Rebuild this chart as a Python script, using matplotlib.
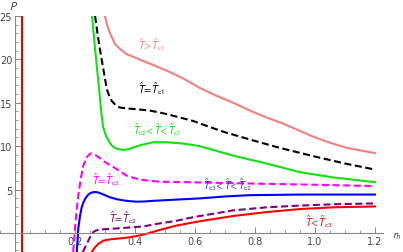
import matplotlib
matplotlib.use("Agg")
import matplotlib.pyplot as plt
from matplotlib.ticker import MultipleLocator

plt.rcParams["mathtext.fontset"] = "stixsans"

# values, r_h and P
r_salmon = [0.300, 0.306, 0.317, 0.333, 0.350, 0.372, 0.394, 0.450, 0.506, 0.561,
            0.617, 0.672, 0.728, 0.783, 0.839, 0.894, 0.994, 1.050, 1.106, 1.200]
p_salmon = [25.0, 24.1, 23.0, 21.8, 21.2, 20.6, 20.3, 19.5, 18.7, 17.8,
            16.7, 15.8, 15.0, 14.1, 13.3, 12.6, 11.1, 10.4, 9.8, 9.2]

r_black = [0.267, 0.275, 0.283, 0.292, 0.300, 0.306, 0.312, 0.317, 0.322, 0.328,
           0.334, 0.340, 0.350, 0.370, 0.390, 0.450, 0.506, 0.550, 0.594, 0.650,
           0.700, 0.800, 0.883, 1.000, 1.100, 1.200]
p_black = [25.0, 23.0, 21.2, 19.4, 17.8, 16.6, 16.0, 15.6, 15.25, 15.0,
           14.8, 14.6, 14.45, 14.35, 14.3, 14.1, 13.7, 13.3, 12.9, 12.2,
           11.6, 10.6, 9.8, 8.8, 8.0, 7.3]

r_green = [0.257, 0.267, 0.278, 0.289, 0.294, 0.300, 0.306, 0.314, 0.322, 0.333,
           0.344, 0.358, 0.372, 0.395, 0.417, 0.440, 0.461, 0.506, 0.561, 0.617,
           0.728, 0.839, 0.950, 1.060, 1.200]
p_green = [25.0, 21.2, 17.4, 13.5, 12.2, 11.5, 11.0, 10.5, 10.1, 9.8,
           9.65, 9.58, 9.6, 9.85, 10.1, 10.3, 10.45, 10.45, 10.3, 10.0,
           8.9, 8.0, 7.0, 6.4, 5.85]

r_magenta = [0.194, 0.200, 0.206, 0.211, 0.219, 0.228, 0.239, 0.245, 0.252, 0.259,
             0.267, 0.280, 0.294, 0.310, 0.328, 0.350, 0.372, 0.395, 0.417, 0.450,
             0.483, 0.572, 0.700, 0.850, 1.000, 1.200]
p_magenta = [-2.2, 0.5, 2.8, 4.3, 6.2, 7.8, 8.7, 8.95, 9.15, 9.1,
             9.0, 8.7, 8.3, 7.95, 7.6, 7.1, 6.6, 6.35, 6.15, 6.0,
             5.9, 5.85, 5.75, 5.65, 5.55, 5.4]

r_blue = [0.206, 0.211, 0.217, 0.222, 0.228, 0.236, 0.244, 0.252, 0.261, 0.272,
          0.283, 0.300, 0.317, 0.340, 0.361, 0.385, 0.406, 0.430, 0.461, 0.517,
          0.572, 0.617, 0.700, 0.783, 0.950, 1.200]
p_blue = [-2.2, 0.5, 2.0, 2.9, 3.5, 4.05, 4.4, 4.6, 4.7, 4.7,
          4.6, 4.35, 4.1, 3.88, 3.75, 3.65, 3.6, 3.62, 3.7, 3.8,
          3.9, 3.98, 4.2, 4.35, 4.42, 4.42]

r_purple = [0.226, 0.239, 0.250, 0.261, 0.270, 0.278, 0.295, 0.317, 0.372, 0.428,
            0.483, 0.539, 0.578, 0.617, 0.728, 0.839, 0.950, 1.060, 1.200]
p_purple = [-2.2, -1.3, -0.5, 0.1, 0.27, 0.35, 0.42, 0.46, 0.6, 0.75,
            1.1, 1.4, 1.7, 1.95, 2.6, 2.95, 3.15, 3.3, 3.4]

r_red = [0.256, 0.267, 0.278, 0.294, 0.310, 0.328, 0.350, 0.372, 0.400, 0.428,
         0.455, 0.483, 0.539, 0.578, 0.617, 0.728, 0.839, 0.950, 1.060, 1.200]
p_red = [-2.2, -1.65, -1.27, -0.9, -0.78, -0.7, -0.63, -0.55, -0.4, -0.2,
         0.05, 0.35, 0.85, 1.1, 1.35, 1.95, 2.4, 2.75, 2.95, 3.05]

r_wall = 0.022

fig = plt.figure(figsize=(4.03, 2.53), dpi=100)
ax = fig.add_axes([0, 0, 383 / 403, 236 / 253])

lw = 1.5
ax.axvline(r_wall, color="#ee0000", lw=lw)
ax.plot(r_salmon, p_salmon, color="#f47f7f", lw=lw)
ax.plot(r_black, p_black, color="black", lw=lw, dashes=(3.4, 1.7))
ax.plot(r_green, p_green, color="#11e011", lw=lw)
ax.plot(r_magenta, p_magenta, color="#ff00ff", lw=lw, dashes=(3.4, 1.7))
ax.plot(r_blue, p_blue, color="#0000ff", lw=lw)
ax.plot(r_purple, p_purple, color="#800080", lw=lw, dashes=(3.4, 1.7))
ax.plot(r_red, p_red, color="#ff0000", lw=lw)

fs = 7
lfs = 7.5
ax.text(0.452, 21.8, r"$\hat{T}\!>\!\hat{T}_{\rm c1}$", color="#f47f7f", fontsize=lfs, ha="center", va="center")
ax.text(0.452, 16.7, r"$\hat{T}\!=\!\hat{T}_{\rm c1}$", color="black", fontsize=lfs, ha="center", va="center")
ax.text(0.473, 12.0, r"$\hat{T}_{\rm c2}\!<\!\hat{T}\!<\!\hat{T}_{\rm c1}$", color="#11e011", fontsize=lfs, ha="center", va="center")
ax.text(0.302, 6.3, r"$\hat{T}\!=\!\hat{T}_{\rm c2}$", color="#ff00ff", fontsize=lfs, ha="center", va="center")
ax.text(0.707, 5.7, r"$\hat{T}_{\rm c3}\!<\!\hat{T}\!<\!\hat{T}_{\rm c2}$", color="#3030ff", fontsize=lfs, ha="center", va="center")
ax.text(0.357, 1.9, r"$\hat{T}\!=\!\hat{T}_{\rm c2}$", color="#800080", fontsize=lfs, ha="center", va="center")
ax.text(1.013, 1.4, r"$\hat{T}\!<\!\hat{T}_{\rm c3}$", color="#ff0000", fontsize=lfs, ha="center", va="center")

ax.set_xlim(-0.05, 1.227)
ax.set_ylim(-2.2, 25)
ax.patch.set_alpha(0)

for s in ["top", "right"]:
    ax.spines[s].set_visible(False)
ax.spines["left"].set_position(("data", 0))
ax.spines["bottom"].set_position(("data", 0))
for s in ["left", "bottom"]:
    ax.spines[s].set_color("#888888")
    ax.spines[s].set_linewidth(0.8)

ax.set_xticks([0.2, 0.4, 0.6, 0.8, 1.0, 1.2])
ax.set_xticklabels(["0.2", "0.4", "0.6", "0.8", "1.0", "1.2"])
ax.set_yticks([5, 10, 15, 20, 25])
ax.xaxis.set_minor_locator(MultipleLocator(0.05))
ax.yaxis.set_minor_locator(MultipleLocator(1))
ax.tick_params(which="both", direction="in", color="#888888", labelcolor="#444444", labelsize=fs)
ax.tick_params(which="major", length=4, width=0.7, pad=2)
ax.tick_params(which="minor", length=2, width=0.6)

fig.text(14 / 403, 1 - 6 / 253, "$P$", color="#444444", fontsize=fs + 1, ha="center", va="center")
fig.text(397 / 403, 1 - 237 / 253, "$r_h$", color="#444444", fontsize=fs + 1, ha="center", va="center")

fig.savefig("out.png", dpi=100)
